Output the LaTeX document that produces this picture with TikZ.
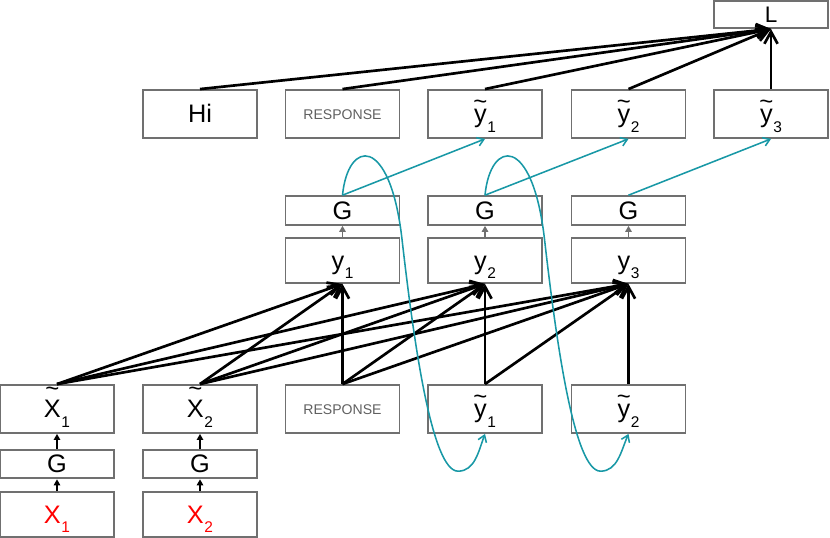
\documentclass[tikz,border=0pt]{standalone}
\usepackage{fontspec}
\setmainfont{Liberation Sans}
\usetikzlibrary{arrows.meta,calc}

\definecolor{boxgray}{RGB}{112,112,112}
\definecolor{textgray}{RGB}{96,96,96}
\definecolor{wrapteal}{RGB}{24,152,166}
\definecolor{inred}{RGB}{255,0,0}

\tikzstyle{box}=[draw=boxgray,line width=1.3pt,minimum width=2.85cm,inner sep=0pt,font=\fontsize{18}{20}\selectfont,text height=12.8pt,text depth=0pt]
\tikzstyle{tall}=[box,minimum height=1.2cm]
\tikzstyle{mid}=[box,minimum height=1.125cm]
\tikzstyle{flat}=[box,minimum height=0.72cm]
\tikzstyle{resp}=[font=\fontsize{10}{12}\selectfont,text=textgray,text height=7.2pt]
\tikzstyle{edge}=[draw,line width=1.9pt,-{Straight Barb[length=3mm,width=3.3mm]}]
\tikzstyle{feed}=[draw,line width=1pt,-{Triangle[length=1.5mm,width=1.6mm]}]
\tikzstyle{tealedge}=[draw=wrapteal,line width=1.1pt,-{Straight Barb[length=1.6mm,width=2.2mm]}]
\newcommand{\lowidx}[1]{\kern0.5pt\raisebox{-6.6pt}{\fontsize{11}{11}\selectfont#1}}
\newcommand{\tilded}[2][15.5pt]{\ooalign{#2\cr\hidewidth\raisebox{#1}{\fontsize{17}{17}\selectfont\char"7E}\hidewidth\cr}}

\begin{document}
\begin{tikzpicture}[x=0.025cm,y=0.025cm]
    \useasboundingbox (0,0) rectangle (830,538);
    % inputs, bottom row
    \foreach \pos/\name/\txt in {{(57,129)/xt1/\tilded{X}\lowidx{1}}, {(200,129)/xt2/\tilded{X}\lowidx{2}},
        {(485,129)/yb1/\tilded[9.6pt]{y}\lowidx{1}}, {(628.5,129)/yb2/\tilded[9.6pt]{y}\lowidx{2}}}
        \node[tall] (\name) at \pos {\txt};
    \node[tall,resp] (respb) at (342.5,129) {RESPONSE};
    \foreach \pos/\name in {{(57,74)/gx1}, {(200,74)/gx2}}
        \node[flat] (\name) at \pos {G};
    \node[mid,text=inred] (x1) at (57,23.5) {X\lowidx{1}};
    \node[mid,text=inred] (x2) at (200,23.5) {X\lowidx{2}};

    % outputs, middle row
    \foreach \pos/\i in {{(342.5,277.5)/1}, {(485,277.5)/2}, {(628.5,277.5)/3}}
        \node[mid] (y\i) at \pos {y\lowidx{\i}};
    \foreach \pos/\i in {{(342.5,327.5)/1}, {(485,327.5)/2}, {(628.5,327.5)/3}}
        \node[flat] (g\i) at \pos {G};

    % top row and loss
    \node[tall] (hi) at (200,424) {Hi};
    \node[tall,resp] (respt) at (342.5,424) {RESPONSE};
    \foreach \pos/\i in {{(485,424)/1}, {(628.5,424)/2}, {(771,424)/3}}
        \node[tall] (yt\i) at \pos {\tilded[9.6pt]{y}\lowidx{\i}};
    \node[box,minimum height=0.67cm,font=\fontsize{16}{18}\selectfont,text height=11.5pt] (loss) at (771,523.3) {L};

    % connections
    \foreach \src/\dst in {x1/gx1, gx1/xt1, x2/gx2, gx2/xt2}
        \path[feed] (\src.north) -- (\dst.south);
    \foreach \i in {1,2,3}
        \path[feed,draw=boxgray] (y\i.north) -- (g\i.south);
    \foreach \src/\dst in {xt1/y1, xt2/y1, respb/y1, xt1/y2, xt2/y2, respb/y2, yb1/y2,
        xt1/y3, xt2/y3, respb/y3, yb1/y3, yb2/y3}
        \path[edge] (\src.north) -- (\dst.south);
    \foreach \src in {hi, respt, yt1, yt2, yt3}
        \path[edge] (\src.north) -- (loss.south);
    \foreach \i in {1,2,3}
        \path[tealedge] (g\i.north) -- (yt\i.south);
    \foreach \g/\t in {g1/yb1, g2/yb2}
        \path[tealedge] (\g.north) .. controls ($(\g.north)+(5.5,56)$) and ($(\g.north)+(47.5,61)$) .. ($(\g.north)+(59.5,-44)$)
            .. controls ($(\g.north)+(71.5,-149)$) and ($(\g.north)+(89.5,-276)$) .. ($(\g.north)+(115.5,-276)$)
            .. controls ($(\g.north)+(132.5,-276)$) and ($(\g.north)+(136,-256)$) .. (\t.south);
\end{tikzpicture}
\end{document}
